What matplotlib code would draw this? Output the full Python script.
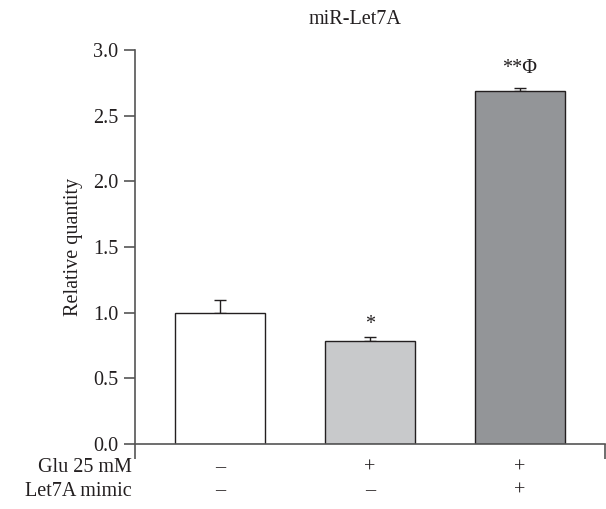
import matplotlib.pyplot as plt
import numpy as np

plt.rcParams['font.family'] = ['Liberation Serif', 'DejaVu Serif']

# Données
groupes = ["ctrl", "glu", "glu_let7a"]
valeurs = [1.0, 0.785, 2.69]
erreurs = [0.10, 0.03, 0.02]
couleurs = ["#ffffff", "#c8c9cb", "#939598"]
signif = ["", "*", "**\u03a6"]
glu = ["\u2013", "+", "+"]
mimic = ["\u2013", "\u2013", "+"]
yticks = [0.0, 0.5, 1.0, 1.5, 2.0, 2.5, 3.0]

gris_axe = "#555555"
txt = "#231f20"
fs = 14.5
# décalage vertical des annotations au-dessus des barres
decal = {"*": 0.02, "**\u03a6": 0.075}

fig = plt.figure(figsize=(6.06, 5.09), dpi=100)
ax = fig.add_axes([135/606, 1 - 444/509, (605 - 135)/606, (444 - 50)/509])

x = np.arange(len(groupes))
ax.bar(x, valeurs, width=0.6, color=couleurs, edgecolor="#231f20", linewidth=1.0, zorder=2)
ax.errorbar(x, valeurs, yerr=[np.zeros(len(erreurs)), erreurs], fmt="none",
            ecolor="#231f20", elinewidth=1.0, capsize=4, capthick=1.0, zorder=1)

for xi, v, e, s in zip(x, valeurs, erreurs, signif):
    if s:
        ax.text(xi, v + e + decal[s], s, ha="center", va="bottom", fontsize=fs, color=txt)

ax.set_xlim(-0.567, 2.567)
ax.set_ylim(0, 3.0)
ax.set_yticks(yticks)
ax.set_yticklabels([f"{t:.1f}" for t in yticks], fontsize=fs, color=txt)
ax.set_ylabel("Relative quantity", fontsize=fs, color=txt, labelpad=7)

# ticks aux extrémités de l'axe x
ax.set_xticks([-0.567, 2.567])
ax.set_xticklabels(["", ""])
ax.tick_params(axis="x", direction="out", length=11, width=1.2, color=gris_axe)
ax.tick_params(axis="y", direction="out", length=8, width=1.2, color=gris_axe, pad=4)

for sp in ["top", "right"]:
    ax.spines[sp].set_visible(False)
for sp in ["left", "bottom"]:
    ax.spines[sp].set_color(gris_axe)
    ax.spines[sp].set_linewidth(1.2)

# tableau des conditions sous l'axe
lignes = [("Glu 25 mM", glu, 468), ("Let7A mimic", mimic, 491)]
for nom, marques, ypix in lignes:
    yf = 1 - ypix/509
    fig.text(132/606, yf, nom, ha="right", va="center", fontsize=fs, color=txt)
    for xi, m in zip(x, marques):
        xd = ax.transData.transform((xi, 0))[0]
        fig.text(xd/606, yf, m, ha="center", va="center", fontsize=fs, color=txt)

fig.text(355/606, 1 - 20/509, "miR-Let7A", ha="center", va="center", fontsize=fs, color=txt)

fig.savefig("out.png", dpi=100)
